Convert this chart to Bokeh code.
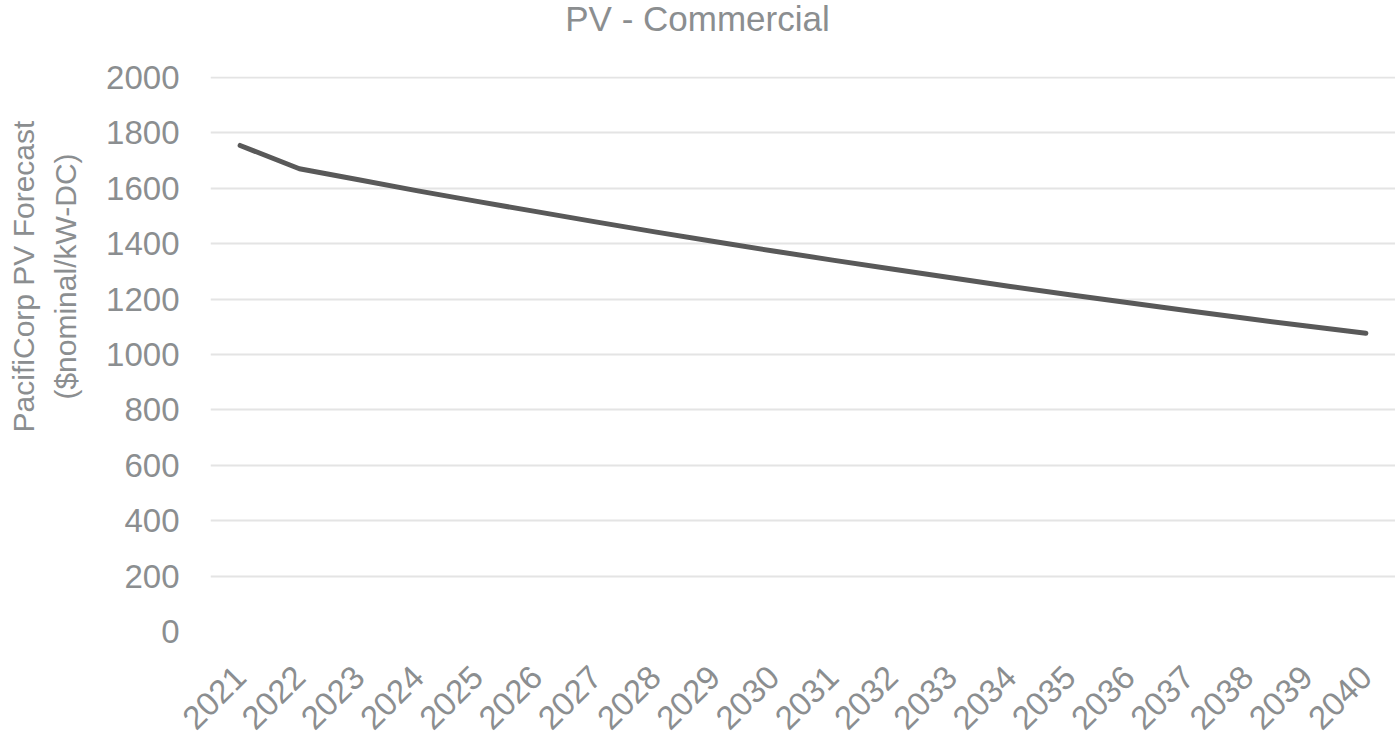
import math
from bokeh.plotting import figure
from bokeh.layouts import row, column
from bokeh.models import Range1d, FactorRange, FixedTicker, Label, ColumnDataSource
from bokeh.embed import file_html
from bokeh.resources import INLINE

years = [str(y) for y in range(2021, 2041)]
cost = [1755, 1671, 1631, 1591, 1553, 1516, 1479, 1443, 1408, 1374,
        1341, 1309, 1277, 1246, 1216, 1187, 1158, 1130, 1103, 1077]
y_ticks = [0, 200, 400, 600, 800, 1000, 1200, 1400, 1600, 1800, 2000]
title_text = "PV - Commercial"
y_title = "PacifiCorp PV Forecast\n($nominal/kW-DC)"

FONT = "Liberation Sans"
GRAY = "#8b8e90"


def blank(width, height):
    f = figure(width=width, height=height, output_backend="svg", toolbar_location=None,
               x_axis_type=None, y_axis_type=None, min_border=0,
               x_range=Range1d(0, 1), y_range=Range1d(0, 1))
    f.outline_line_color = None
    f.grid.visible = False
    return f


# title strip
tfig = blank(1395, 40)
tfig.add_layout(Label(x=697, y=22, x_units="screen", y_units="screen", text=title_text,
                      text_align="center", text_baseline="middle",
                      text_font=FONT, text_font_size="35px", text_color=GRAY))

# y-axis title strip (its frame lines up with the main frame)
lfig = blank(95, 703)
lfig.add_layout(Label(x=44, y=355, x_units="screen", y_units="screen", text=y_title,
                      angle=math.pi / 2, text_align="center", text_baseline="middle",
                      text_font=FONT, text_font_size="30px", text_color=GRAY,
                      text_line_height=1.25))

# main chart
p = figure(width=1300, height=703, output_backend="svg", toolbar_location=None,
           x_range=FactorRange(factors=years, range_padding=0),
           y_range=Range1d(0, 2004),
           min_border_left=115, min_border_right=0, min_border_top=36, min_border_bottom=112)

src = ColumnDataSource(dict(x=years, y=cost))
p.line("x", "y", source=src, line_width=5, line_color="#595959", line_cap="round", line_join="round")

p.outline_line_color = None
p.xgrid.grid_line_color = None
p.ygrid.grid_line_color = "#e4e4e4"
p.ygrid.grid_line_width = 2

p.yaxis.ticker = FixedTicker(ticks=y_ticks)
for ax in (p.xaxis[0], p.yaxis[0]):
    ax.axis_line_color = None
    ax.major_tick_line_color = None
    ax.minor_tick_line_color = None
    ax.major_label_text_font = FONT
    ax.major_label_text_color = GRAY
    ax.major_label_text_font_size = "33px"

p.yaxis.major_label_standoff = 25
p.xaxis.major_label_standoff = 34
p.xaxis.major_label_orientation = math.pi / 4

layout = column(tfig, row(lfig, p, spacing=0), spacing=0)

open("out.html", "w").write(file_html(layout, INLINE))
